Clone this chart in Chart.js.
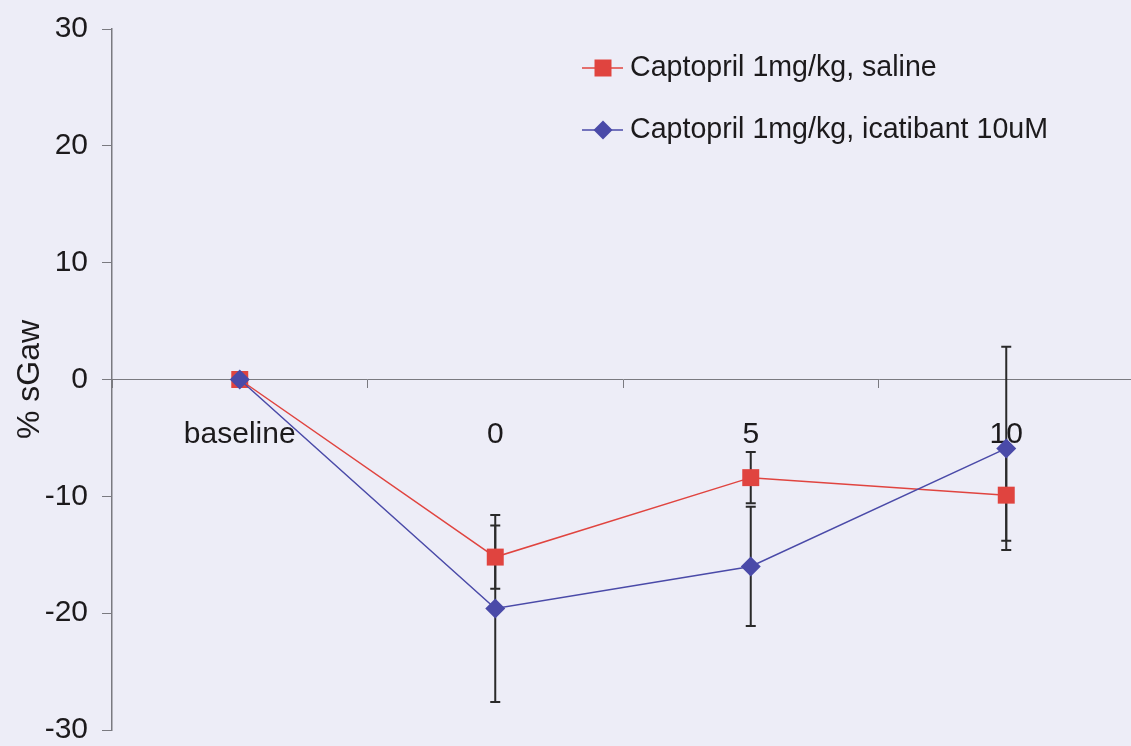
<!DOCTYPE html>
<html>
<head>
<meta charset="utf-8">
<script src="https://cdn.jsdelivr.net/npm/chart.js@4.4.0/dist/chart.umd.min.js"></script>
<style>
  html, body { margin: 0; padding: 0; overflow: hidden; background: #ededf7; }
  #wrap { width: 1134px; height: 746px; }
</style>
</head>
<body>
<div id="wrap"><canvas id="chart" width="1134" height="746"></canvas></div>
<script>
// ==================== DATA ====================
const categories = ["baseline", "0", "5", "10"];
const salineValues = [0, -15.2, -8.4, -9.9];
const salineErrors = [0, 2.7, 2.2, 3.9];
const icatibantValues = [0, -19.6, -16.0, -5.9];
const icatibantErrors = [0, 8.0, 5.1, 8.7];
const yTicks = [-30, -20, -10, 0, 10, 20, 30];
const legendLabels = ["Captopril 1mg/kg, saline", "Captopril 1mg/kg, icatibant 10uM"];

const FONT = "'Liberation Sans', Arial, sans-serif";
const TEXT = "#1c1a1c";
const AXIS = "#7a7a80";

// ==================== ERROR BARS ====================
const errorBars = {
  id: "errorBars",
  beforeDatasetsDraw(chart) {
    const ctx = chart.ctx;
    const y = chart.scales.y;
    ctx.save();
    ctx.strokeStyle = "#2a2a2a";
    ctx.lineWidth = 2;
    chart.data.datasets.forEach((ds, i) => {
      chart.getDatasetMeta(i).data.forEach((pt, j) => {
        const err = ds.errors[j];
        if (!err) return;
        const top = y.getPixelForValue(ds.data[j] + err);
        const bot = y.getPixelForValue(ds.data[j] - err);
        ctx.beginPath();
        ctx.moveTo(pt.x, top); ctx.lineTo(pt.x, bot);
        ctx.moveTo(pt.x - 5, top); ctx.lineTo(pt.x + 5, top);
        ctx.moveTo(pt.x - 5, bot); ctx.lineTo(pt.x + 5, bot);
        ctx.stroke();
      });
    });
    ctx.restore();
  }
};

// ==================== LEGEND (line + marker) ====================
const lineLegend = {
  id: "lineLegend",
  afterDraw(chart) {
    const ctx = chart.ctx;
    ctx.save();
    chart.data.datasets.forEach((ds, i) => {
      const cy = 68 + i * 62;
      ctx.strokeStyle = ds.borderColor;
      ctx.lineWidth = 1.5;
      ctx.beginPath(); ctx.moveTo(582, cy); ctx.lineTo(623, cy); ctx.stroke();
      ctx.fillStyle = ds.backgroundColor;
      ctx.beginPath();
      if (ds.pointStyle === "rect") {
        ctx.rect(603 - 8.5, cy - 8.5, 17, 17);
      } else {
        ctx.moveTo(603, cy - 9.5); ctx.lineTo(612.5, cy);
        ctx.lineTo(603, cy + 9.5); ctx.lineTo(593.5, cy);
        ctx.closePath();
      }
      ctx.fill();
      ctx.fillStyle = TEXT;
      ctx.font = "28.6px " + FONT;
      ctx.textBaseline = "middle";
      ctx.fillText(ds.label, 630, cy);
    });
    ctx.restore();
  }
};

// ==================== CHART ====================
new Chart(document.getElementById("chart"), {
  type: "line",
  data: {
    labels: categories,
    datasets: [
      {
        label: legendLabels[0],
        data: salineValues,
        errors: salineErrors,
        borderColor: "#e0443f",
        backgroundColor: "#e0443f",
        borderWidth: 1.5,
        pointStyle: "rect",
        pointRadius: 12,
        pointBorderWidth: 0,
        order: 1
      },
      {
        label: legendLabels[1],
        data: icatibantValues,
        errors: icatibantErrors,
        borderColor: "#4a4aa8",
        backgroundColor: "#4a4aa8",
        borderWidth: 1.5,
        pointStyle: "rectRot",
        pointRadius: 10,
        pointBorderWidth: 0,
        order: 0
      }
    ]
  },
  options: {
    responsive: false,
    animation: false,
    layout: { autoPadding: false, padding: { top: 29, bottom: 16, left: 0, right: 0 } },
    plugins: { legend: { display: false }, tooltip: { enabled: false } },
    scales: {
      x: {
        position: { y: 0 },
        offset: true,
        afterFit: (s) => { s.paddingLeft = 0; s.paddingRight = 0; },
        grid: { drawOnChartArea: false, tickLength: 8, color: AXIS, offset: true },
        border: { color: AXIS, width: 1 },
        ticks: { font: { family: FONT, size: 30 }, color: TEXT, padding: 29 }
      },
      y: {
        min: -30,
        max: 30,
        afterBuildTicks: (s) => { s.ticks = yTicks.map(v => ({ value: v })); },
        afterFit: (s) => { s.width = 112; s.paddingTop = 0; s.paddingBottom = 0; },
        grid: { drawOnChartArea: false, tickLength: 10, color: AXIS },
        border: { color: AXIS, width: 1.5 },
        ticks: { font: { family: FONT, size: 30 }, color: TEXT, padding: 14 },
        title: {
          display: true,
          text: "% sGaw",
          font: { family: FONT, size: 32 },
          color: TEXT,
          padding: { top: 11, bottom: 0 }
        }
      }
    }
  },
  plugins: [errorBars, lineLegend]
});
</script>
</body>
</html>
